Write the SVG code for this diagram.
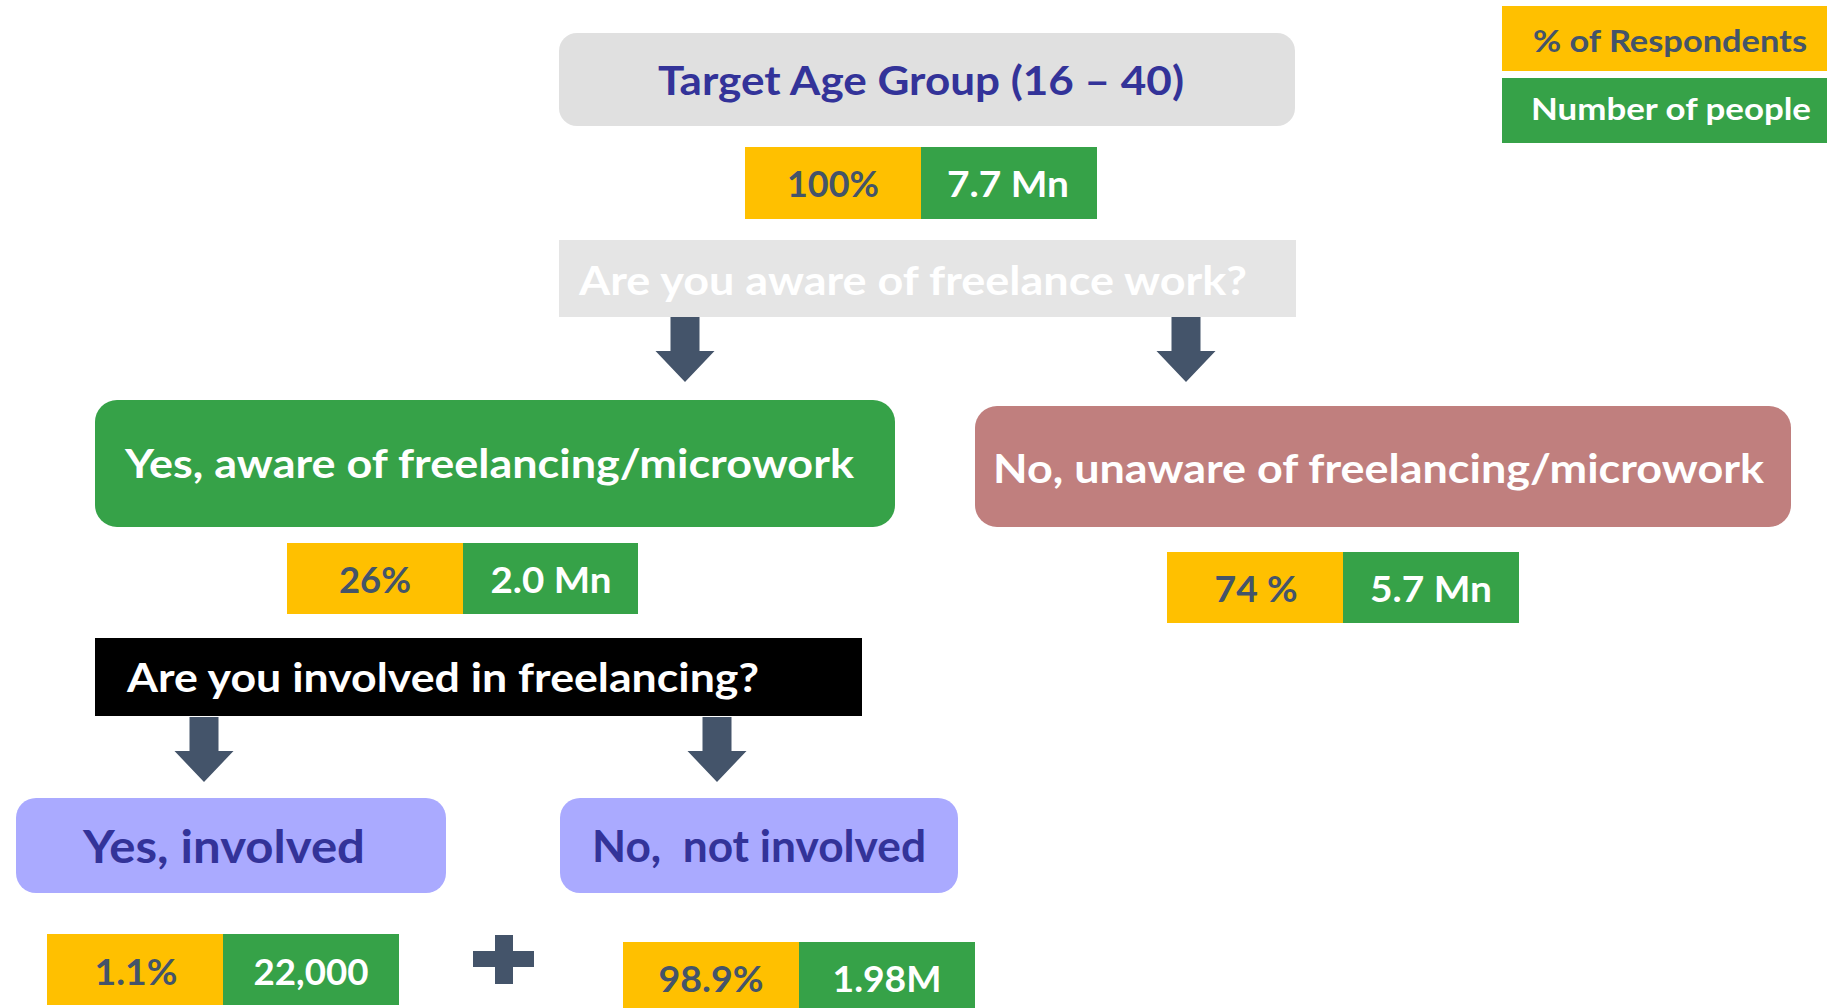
<svg xmlns="http://www.w3.org/2000/svg" width="1827" height="1008" viewBox="0 0 1827 1008">
<style>
text{font-family:Lato,"Open Sans","Liberation Sans",sans-serif;font-weight:700}
.y{fill:#FFC000}.g{fill:#36A248}
.ty{fill:#44546A;font-size:37px;text-anchor:middle}
.tg{fill:#FFFFFF;font-size:37px;text-anchor:middle}
.w{fill:#FFFFFF}
.b{fill:#333399}
.arr{fill:#44546A}
</style>
<defs>
<path id="arrow" d="M-14.5,0 H14.5 V34 H29.5 L0,65 L-29.5,34 H-14.5 Z"/>
</defs>

<g id="legend">
<rect class="y" x="1502" y="6" width="325" height="65"/>
<text x="1533" y="52" fill="#44546A" font-size="31" textLength="274" lengthAdjust="spacingAndGlyphs">% of Respondents</text>
<rect class="g" x="1502" y="78" width="325" height="65"/>
<text x="1531" y="120" class="w" font-size="31" textLength="280" lengthAdjust="spacingAndGlyphs">Number of people</text>
</g>

<g id="target">
<rect x="559" y="33" width="736" height="93" rx="18" fill="#E0E0E0"/>
<text x="658" y="95" class="b" font-size="40" textLength="526" lengthAdjust="spacingAndGlyphs">Target Age Group (16 – 40)</text>
</g>
<g id="target-stats">
<rect class="y" x="745" y="147" width="176" height="72"/>
<rect class="g" x="921" y="147" width="176" height="72"/>
<text class="ty" x="833" y="197" textLength="92" lengthAdjust="spacingAndGlyphs">100%</text>
<text class="tg" x="1008" y="197" textLength="122" lengthAdjust="spacingAndGlyphs">7.7 Mn</text>
</g>

<g id="q-aware">
<rect x="559" y="240" width="737" height="77" fill="#E5E5E5"/>
<text x="579" y="295" class="w" font-size="41" textLength="668" lengthAdjust="spacingAndGlyphs">Are you aware of freelance work?</text>
</g>

<g id="yes-aware">
<rect x="95" y="400" width="800" height="127" rx="22" fill="#36A248"/>
<text x="125" y="478" class="w" font-size="40" textLength="729" lengthAdjust="spacingAndGlyphs">Yes, aware of freelancing/microwork</text>
</g>
<g id="yes-aware-stats">
<rect class="y" x="287" y="543" width="176" height="71"/>
<rect class="g" x="463" y="543" width="175" height="71"/>
<text class="ty" x="375" y="593" textLength="72" lengthAdjust="spacingAndGlyphs">26%</text>
<text class="tg" x="551" y="593" textLength="121" lengthAdjust="spacingAndGlyphs">2.0 Mn</text>
</g>

<g id="no-aware">
<rect x="975" y="406" width="816" height="121" rx="22" fill="#C07F7E"/>
<text x="993" y="483" class="w" font-size="40" textLength="771" lengthAdjust="spacingAndGlyphs">No, unaware of freelancing/microwork</text>
</g>
<g id="no-aware-stats">
<rect class="y" x="1167" y="552" width="176" height="71"/>
<rect class="g" x="1343" y="552" width="176" height="71"/>
<text class="ty" x="1256" y="602" textLength="83" lengthAdjust="spacingAndGlyphs">74 %</text>
<text class="tg" x="1431" y="602" textLength="122" lengthAdjust="spacingAndGlyphs">5.7 Mn</text>
</g>

<g id="q-involved">
<rect x="95" y="638" width="767" height="78" fill="#000000"/>
<text x="127" y="692" class="w" font-size="40" textLength="632" lengthAdjust="spacingAndGlyphs">Are you involved in freelancing?</text>
</g>

<g id="yes-involved">
<rect x="16" y="798" width="430" height="95" rx="20" fill="#AAAAFF"/>
<text x="83" y="863" class="b" font-size="46" textLength="282" lengthAdjust="spacingAndGlyphs">Yes, involved</text>
</g>
<g id="yes-involved-stats">
<rect class="y" x="47" y="934" width="176" height="71"/>
<rect class="g" x="223" y="934" width="176" height="71"/>
<text class="ty" x="136" y="985" textLength="83" lengthAdjust="spacingAndGlyphs">1.1%</text>
<text class="tg" x="311" y="985" textLength="115" lengthAdjust="spacingAndGlyphs">22,000</text>
</g>

<g id="no-involved">
<rect x="560" y="798" width="398" height="95" rx="20" fill="#AAAAFF"/>
<text x="592" y="862" class="b" font-size="44" textLength="334" lengthAdjust="spacingAndGlyphs" xml:space="preserve">No,  not involved</text>
</g>
<g id="no-involved-stats">
<rect class="y" x="623" y="942" width="176" height="70"/>
<rect class="g" x="799" y="942" width="176" height="70"/>
<text class="ty" x="711" y="992" textLength="105" lengthAdjust="spacingAndGlyphs">98.9%</text>
<text class="tg" x="887" y="992" textLength="109" lengthAdjust="spacingAndGlyphs">1.98M</text>
</g>

<g id="plus">
<rect class="arr" x="473" y="951" width="61" height="16"/>
<rect class="arr" x="495" y="935" width="18" height="49"/>
</g>

<g id="connectors">
<use href="#arrow" class="arr" x="685" y="317"/>
<use href="#arrow" class="arr" x="1186" y="317"/>
<use href="#arrow" class="arr" x="204" y="717"/>
<use href="#arrow" class="arr" x="717" y="717"/>
</g>
</svg>
